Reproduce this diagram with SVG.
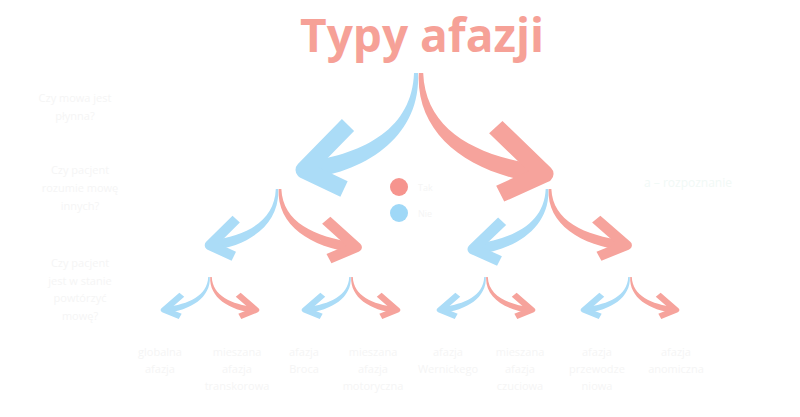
<svg xmlns="http://www.w3.org/2000/svg" xmlns:xlink="http://www.w3.org/1999/xlink" width="800" height="417" viewBox="0 0 800 417">
<style>
.t{font-family:"Open Sans","Liberation Sans",sans-serif;font-size:11px;fill:#f5f5f5;text-anchor:middle}
.title{font-family:"Open Sans","Liberation Sans",sans-serif;font-size:46px;font-weight:700;fill:#f6a197;text-anchor:middle}
.b{fill:#abdcf7}
.bs{fill:none;stroke:#abdcf7;stroke-width:17;stroke-linejoin:round}
.r{fill:#f6a39c}
.rs{fill:none;stroke:#f6a39c;stroke-width:17;stroke-linejoin:round}
</style>
<defs>
<g id="L">
<path class="b" d="M-2,0 C-4,55 -50,80 -110,89 L-110,106 C-45,98 5,60 2,0 Z"/>
<path class="bs" d="M-68,52 L-112,97 L-72,116"/>
</g>
<g id="R">
<path class="r" d="M-2,0 C-4,55 -50,80 -110,89 L-110,106 C-45,98 5,60 2,0 Z"/>
<path class="rs" d="M-68,52 L-112,97 L-72,116"/>
</g>
</defs>
<rect width="800" height="417" fill="#ffffff"/>
<g id="title"><text class="title" x="422" y="52">Typy afazji</text></g>
<g id="connectors">
<use xlink:href="#L" transform="translate(416,73)"/>
<use xlink:href="#R" transform="translate(421,73) scale(-1.1,1.04)"/>
<use xlink:href="#L" transform="translate(277,189) scale(0.6,0.58)"/>
<use xlink:href="#R" transform="translate(280,189) scale(-0.68,0.6)"/>
<use xlink:href="#L" transform="translate(547,189) scale(0.66,0.62)"/>
<use xlink:href="#R" transform="translate(550,189) scale(-0.68,0.58)"/>
<use xlink:href="#L" transform="translate(209,277) scale(0.4,0.34)"/>
<use xlink:href="#R" transform="translate(211,277) scale(-0.4,0.34)"/>
<use xlink:href="#L" transform="translate(350,277) scale(0.4,0.34)"/>
<use xlink:href="#R" transform="translate(352,277) scale(-0.4,0.34)"/>
<use xlink:href="#L" transform="translate(485,277) scale(0.4,0.34)"/>
<use xlink:href="#R" transform="translate(487,277) scale(-0.4,0.34)"/>
<use xlink:href="#L" transform="translate(629,277) scale(0.4,0.34)"/>
<use xlink:href="#R" transform="translate(631,277) scale(-0.4,0.34)"/>
</g>
<g id="q1"><text class="t" x="75" y="102">Czy mowa jest</text><text class="t" x="75" y="120">płynna?</text></g>
<g id="q2"><text class="t" x="80" y="174">Czy pacjent</text><text class="t" x="80" y="192">rozumie mowę</text><text class="t" x="80" y="210">innych?</text></g>
<g id="q3"><text class="t" x="80" y="267">Czy pacjent</text><text class="t" x="80" y="285">jest w stanie</text><text class="t" x="80" y="302">powtórzyć</text><text class="t" x="80" y="320">mowę?</text></g>
<g id="legend">
<circle cx="399" cy="187" r="9" fill="#f6948e"/>
<circle cx="399" cy="213" r="9" fill="#9fd8f7"/>
<text class="t" x="418" y="191" style="font-size:9px;text-anchor:start">Tak</text>
<text class="t" x="418" y="217" style="font-size:9px;text-anchor:start">Nie</text>
</g>
<g id="note"><text class="t" x="688" y="187" style="font-size:12px;fill:#f1f9f6">a – rozpoznanie</text></g>
<g id="n1"><text class="t" x="160" y="356">globalna</text><text class="t" x="160" y="373">afazja</text></g>
<g id="n2"><text class="t" x="237" y="356">mieszana</text><text class="t" x="237" y="373">afazja</text><text class="t" x="237" y="390">transkorowa</text></g>
<g id="n3"><text class="t" x="304" y="356">afazja</text><text class="t" x="304" y="373">Broca</text></g>
<g id="n4"><text class="t" x="373" y="356">mieszana</text><text class="t" x="373" y="373">afazja</text><text class="t" x="373" y="390">motoryczna</text></g>
<g id="n5"><text class="t" x="448" y="356">afazja</text><text class="t" x="448" y="373">Wernickego</text></g>
<g id="n6"><text class="t" x="520" y="356">mieszana</text><text class="t" x="520" y="373">afazja</text><text class="t" x="520" y="390">czuciowa</text></g>
<g id="n7"><text class="t" x="597" y="356">afazja</text><text class="t" x="597" y="373">przewodze</text><text class="t" x="597" y="390">niowa</text></g>
<g id="n8"><text class="t" x="676" y="356">afazja</text><text class="t" x="676" y="373">anomiczna</text></g>
</svg>
